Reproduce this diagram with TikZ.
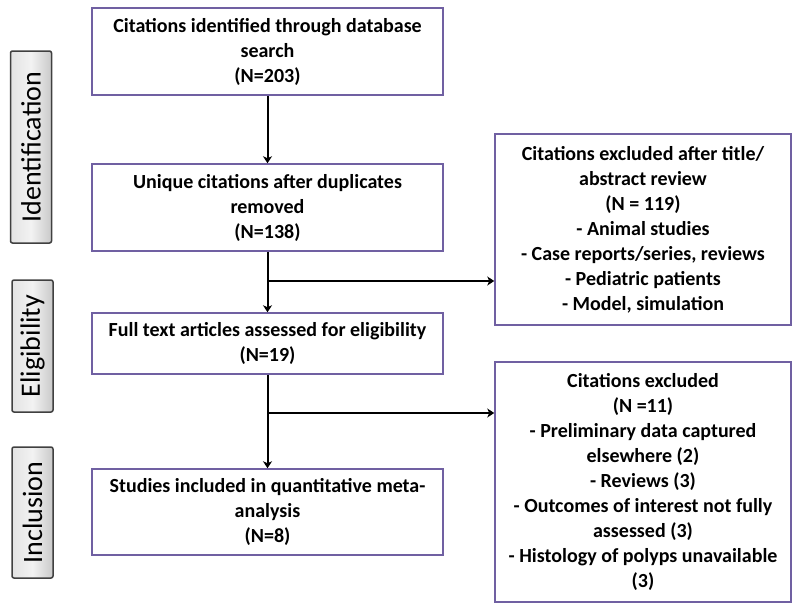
\documentclass[tikz,border=0pt]{standalone}
\usepackage{fontspec}
\setmainfont{Carlito}
\usetikzlibrary{calc}
\usetikzlibrary{arrows.meta}
\definecolor{boxline}{RGB}{112,96,162}
\newcommand*{\boxtext}{\fontsize{20}{25}\selectfont\bfseries}
\newcommand*{\sidetext}{\fontsize{28}{30}\selectfont}
\newcommand*{\mainx}{267.5}
\newcommand*{\mainw}{351}
\newcommand*{\sidew}{296}

\begin{document}
\begin{tikzpicture}[x=1pt, y=-1pt,
    flowbox/.style={draw=boxline, line width=1.5pt, fill=white, align=center,
        inner sep=0pt, minimum width=\mainw pt, font=\boxtext},
    exclbox/.style={flowbox, minimum width=\sidew pt},
    phase/.style={draw=black!75, line width=1.5pt, rounded corners=2pt, rotate=90,
        left color=gray!22, right color=gray!42, middle color=gray!10,
        inner sep=0pt, minimum height=41pt, font=\sidetext},
    arr/.style={draw, line width=2pt, -{Stealth[length=7pt,width=9pt,inset=2pt]}}]
    \useasboundingbox (0,0) rectangle (800,613);
        % phases
        \node [phase, minimum width=192pt] (ident) at (31,147) {Identification};
        \node [phase, minimum width=132pt] (elig)  at (32.5,346) {Eligibility};
        \node [phase, minimum width=131pt] (incl)  at (32.5,512.5) {Inclusion};
        % main column
        \node [flowbox, minimum height=87pt] (search) at (\mainx,51.5)
            {Citations identified through database\\search\\(N=203)};
        \node [flowbox, minimum height=87pt] (unique) at (\mainx,207.5)
            {Unique citations after duplicates\\removed\\(N=138)};
        \node [flowbox, minimum height=61pt] (fulltext) at (\mainx,343.5)
            {Full text articles assessed for eligibility\\(N=19)};
        \node [flowbox, minimum height=86pt] (included) at (\mainx,512)
            {Studies included in quantitative meta-\\analysis\\(N=8)};
        % exclusions
        \node [exclbox, minimum height=191pt] (exclone) at (643,229.5)
            {Citations excluded after title/\\abstract review\\(N = 119)\\- Animal studies\\- Case reports/series, reviews\\- Pediatric patients\\- Model, simulation};
        \node [exclbox, minimum height=240pt] (excltwo) at (643,482)
            {Citations excluded\\(N =11)\\- Preliminary data captured\\elsewhere (2)\\- Reviews (3)\\- Outcomes of interest not fully\\assessed (3)\\- Histology of polyps unavailable\\(3)};
        \coordinate (splitone) at (\mainx,281);
        \coordinate (splittwo) at (\mainx,413);
        \draw [arr] (search) -- (unique);
        \draw [arr] (unique) -- (fulltext);
        \draw [arr] (fulltext) -- (included);
        \draw [arr] (splitone) -- (splitone -| exclone.west);
        \draw [arr] (splittwo) -- (splittwo -| excltwo.west);
    \end{tikzpicture}
\end{document}
